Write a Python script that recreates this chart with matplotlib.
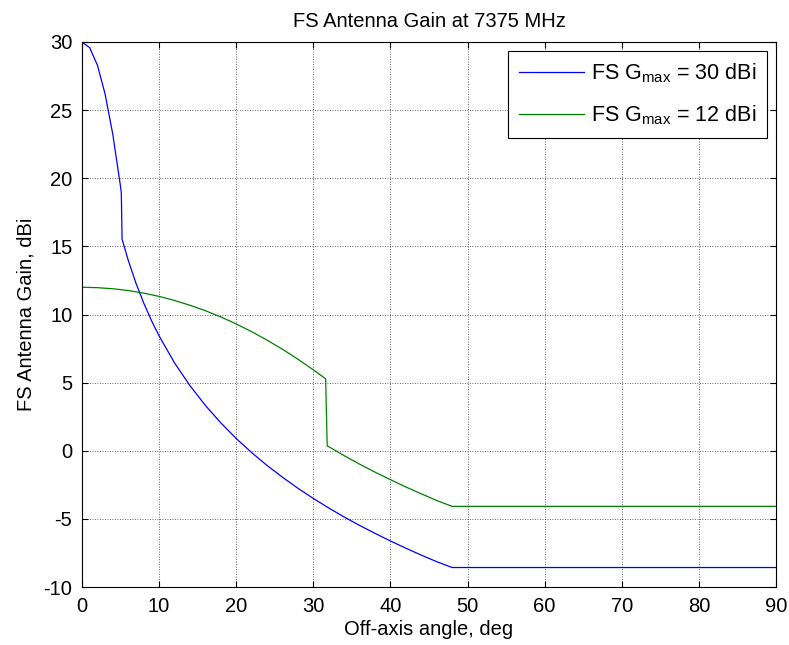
import matplotlib
matplotlib.use("Agg")
import matplotlib.pyplot as plt

plt.rcParams['font.family'] = ['Liberation Sans', 'DejaVu Sans']
plt.rcParams['mathtext.fontset'] = 'custom'
plt.rcParams['mathtext.rm'] = 'Liberation Sans'
plt.rcParams['axes.unicode_minus'] = False

# Blue: FS Gmax = 30 dBi
angle_30 = [0, 1, 2, 3, 4, 5, 5.1, 5.2, 6, 7, 8, 9, 10, 12, 14, 16, 18, 20, 22, 24,
            26, 28, 30, 32, 34, 36, 38, 40, 42, 44, 46, 48, 90]
gain_30 = [30.0, 29.58, 28.30, 26.18, 23.21, 19.39, 18.96, 15.53, 13.98, 12.30, 10.85,
           9.57, 8.43, 6.45, 4.78, 3.33, 2.05, 0.90, -0.13, -1.08, -1.94, -2.75, -3.50,
           -4.20, -4.86, -5.48, -6.06, -6.62, -7.15, -7.66, -8.14, -8.57, -8.57]

# Green: FS Gmax = 12 dBi
angle_12 = [0, 2, 4, 6, 8, 10, 12, 14, 16, 18, 20, 22, 24, 26, 28, 30, 31.6, 31.8,
            32, 34, 36, 38, 40, 42, 44, 46, 48, 90]
gain_12 = [12.0, 11.97, 11.89, 11.76, 11.57, 11.33, 11.03, 10.68, 10.28, 9.82, 9.31,
           8.74, 8.12, 7.45, 6.72, 5.94, 5.28, 0.36, 0.30, -0.36, -0.98, -1.57, -2.12,
           -2.66, -3.16, -3.65, -4.08, -4.08]

series_labels = [r'FS G$_{\mathregular{max}}$ = 30 dBi', r'FS G$_{\mathregular{max}}$ = 12 dBi']
x_ticks = [0, 10, 20, 30, 40, 50, 60, 70, 80, 90]
y_ticks = [-10, -5, 0, 5, 10, 15, 20, 25, 30]

FS = 14.5

fig = plt.figure(figsize=(7.89, 6.45), dpi=100)
ax = fig.add_axes([0.1039, 0.0899, 0.9835 - 0.1039, 0.9349 - 0.0899])

ax.plot(angle_30, gain_30, color='#0000ff', lw=0.9, label=series_labels[0])
ax.plot(angle_12, gain_12, color='#008000', lw=0.9, label=series_labels[1])

ax.set_xlim(0, 90)
ax.set_ylim(-10, 30)
ax.set_xticks(x_ticks)
ax.set_yticks(y_ticks)
ax.grid(True, color='black', linestyle=(0, (1, 2)), linewidth=0.6, alpha=0.8)
ax.tick_params(direction='in', top=True, right=True, length=4, labelsize=FS, width=0.8)
ax.tick_params(axis='x', pad=7)
ax.tick_params(axis='y', pad=7)
for s in ax.spines.values():
    s.set_linewidth(0.8)

ax.set_title('FS Antenna Gain at 7375 MHz', fontsize=FS, pad=11)
ax.set_xlabel('Off-axis angle, deg', fontsize=FS, labelpad=3)
ax.set_ylabel('FS Antenna Gain, dBi', fontsize=FS, labelpad=6)

leg = ax.legend(loc='upper right', fontsize=15.5, fancybox=False, framealpha=1,
                edgecolor='black', borderaxespad=0.4, handlelength=3.0,
                handletextpad=0.35, borderpad=0.5, labelspacing=0.85)
leg.get_frame().set_linewidth(0.8)

fig.savefig('out.png', dpi=100)
